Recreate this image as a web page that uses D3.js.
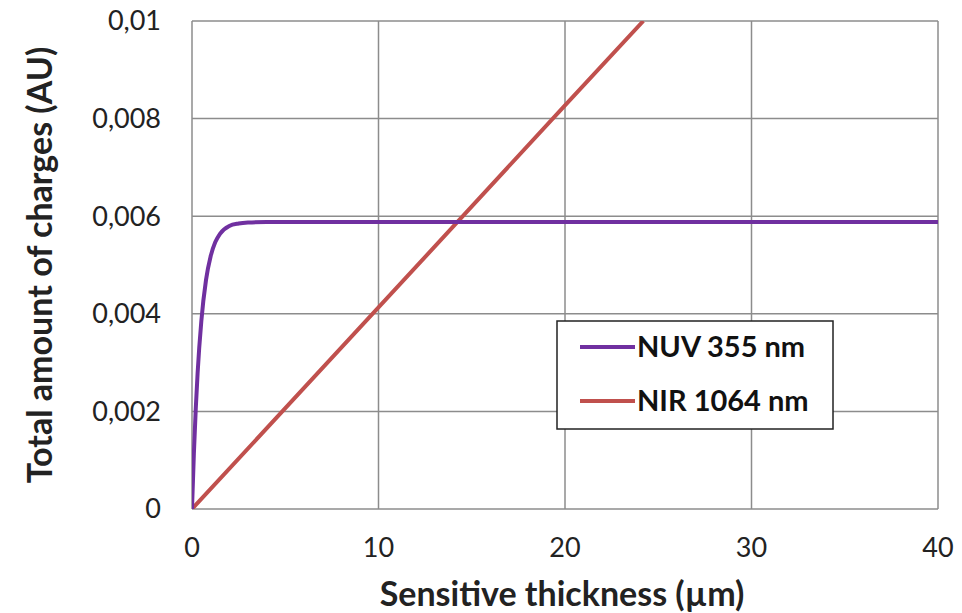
<!DOCTYPE html>
<html>
<head>
<meta charset="utf-8">
<script src="https://cdn.jsdelivr.net/npm/d3@7"></script>
<style>
  body { margin: 0; background: #fff; }
  text { font-family: Lato, "Open Sans", sans-serif; fill: #222; }
</style>
</head>
<body>
<div id="chart"></div>
<script>
// values
var thickness = [0, 0.1, 0.2, 0.3, 0.5, 0.75, 1, 1.25, 1.5, 2, 2.5, 3, 4, 5, 10, 20, 30, 40];
var nuvCharges = [0, 0.00113, 0.00204, 0.00278, 0.00385, 0.00469, 0.00518, 0.00547, 0.00564,
  0.0058, 0.00585, 0.00587, 0.00588, 0.00588, 0.00588, 0.00588, 0.00588, 0.00588];
var nirThickness = [0, 10, 20, 24.2];
var nirCharges = [0, 0.00413, 0.00827, 0.01];

var xTicks = [0, 10, 20, 30, 40];
var yTicks = [0, 0.002, 0.004, 0.006, 0.008, 0.01];
var seriesNames = ["NUV 355 nm", "NIR 1064 nm"];
var seriesColors = ["#7030a0", "#c0504d"];

var width = 962, height = 613;
var margin = {left: 192, right: 24, top: 21, bottom: 104};

var svg = d3.select("#chart").append("svg")
    .attr("width", width)
    .attr("height", height);

var x = d3.scaleLinear().domain([0, 40]).range([margin.left, width - margin.right]);
var y = d3.scaleLinear().domain([0, 0.01]).range([height - margin.bottom, margin.top]);

var fmtY = function(d) { return d === 0 ? "0" : String(+d.toFixed(3)).replace(".", ","); };

// grid
svg.selectAll("line.gx")
    .data(xTicks)
    .enter()
  .append("line")
    .attr("class", "gx")
    .attr("x1", function(d) { return x(d); })
    .attr("x2", function(d) { return x(d); })
    .attr("y1", y(0))
    .attr("y2", y(0.01))
    .style("stroke", "#8c8c8c")
    .style("stroke-width", "1.5px");

svg.selectAll("line.gy")
    .data(yTicks)
    .enter()
  .append("line")
    .attr("class", "gy")
    .attr("x1", x(0))
    .attr("x2", x(40))
    .attr("y1", function(d) { return y(d); })
    .attr("y2", function(d) { return y(d); })
    .style("stroke", "#8c8c8c")
    .style("stroke-width", "1.5px");

// tick labels
svg.selectAll("text.xt")
    .data(xTicks)
    .enter()
  .append("text")
    .attr("class", "xt")
    .attr("x", function(d) { return x(d); })
    .attr("y", y(0) + 48)
    .style("text-anchor", "middle")
    .style("font-size", "27px")
    .text(function(d) { return d; });

svg.selectAll("text.yt")
    .data(yTicks)
    .enter()
  .append("text")
    .attr("class", "yt")
    .attr("x", 161)
    .attr("y", function(d) { return y(d); })
    .attr("dy", "0.35em")
    .style("text-anchor", "end")
    .style("font-size", "27px")
    .text(fmtY);

// axis titles
svg.append("text")
    .attr("x", 562)
    .attr("y", 606)
    .style("text-anchor", "middle")
    .style("font-size", "34px")
    .style("font-weight", "bold")
    .text("Sensitive thickness (µm)");

svg.append("text")
    .attr("transform", "translate(52," + ((y(0) + y(0.01)) / 2) + ") rotate(-90)")
    .style("text-anchor", "middle")
    .style("font-size", "34px")
    .style("font-weight", "bold")
    .text("Total amount of charges (AU)");

// curves
var clip = svg.append("clipPath").attr("id", "plot-clip")
  .append("rect")
    .attr("x", x(0))
    .attr("y", y(0.01))
    .attr("width", x(40) - x(0))
    .attr("height", y(0) - y(0.01));

var line = d3.line()
    .x(function(d) { return x(d[0]); })
    .y(function(d) { return y(d[1]); });

svg.append("path")
    .datum(d3.zip(nirThickness, nirCharges))
    .attr("clip-path", "url(#plot-clip)")
    .attr("d", line)
    .style("fill", "none")
    .style("stroke", seriesColors[1])
    .style("stroke-width", "4px");

svg.append("path")
    .datum(d3.zip(thickness, nuvCharges))
    .attr("clip-path", "url(#plot-clip)")
    .attr("d", line.curve(d3.curveMonotoneX))
    .style("fill", "none")
    .style("stroke", seriesColors[0])
    .style("stroke-width", "4px");

// legend
var legend = svg.append("g")
    .attr("transform", "translate(557,321)");

legend.append("rect")
    .attr("width", 276)
    .attr("height", 108)
    .style("fill", "#fff")
    .style("stroke", "#222")
    .style("stroke-width", "1.5px");

var items = legend.selectAll("g.item")
    .data(seriesNames)
    .enter()
  .append("g")
    .attr("class", "item")
    .attr("transform", function(d, i) { return "translate(0," + (26 + i * 54) + ")"; });

items.append("line")
    .attr("x1", 23)
    .attr("x2", 78)
    .style("stroke", function(d, i) { return seriesColors[i]; })
    .style("stroke-width", "4px");

items.append("text")
    .attr("x", 80)
    .attr("dy", "0.36em")
    .style("font-size", "29px")
    .style("font-weight", "bold")
    .style("fill", "#111")
    .text(function(d) { return d; });
</script>
</body>
</html>
